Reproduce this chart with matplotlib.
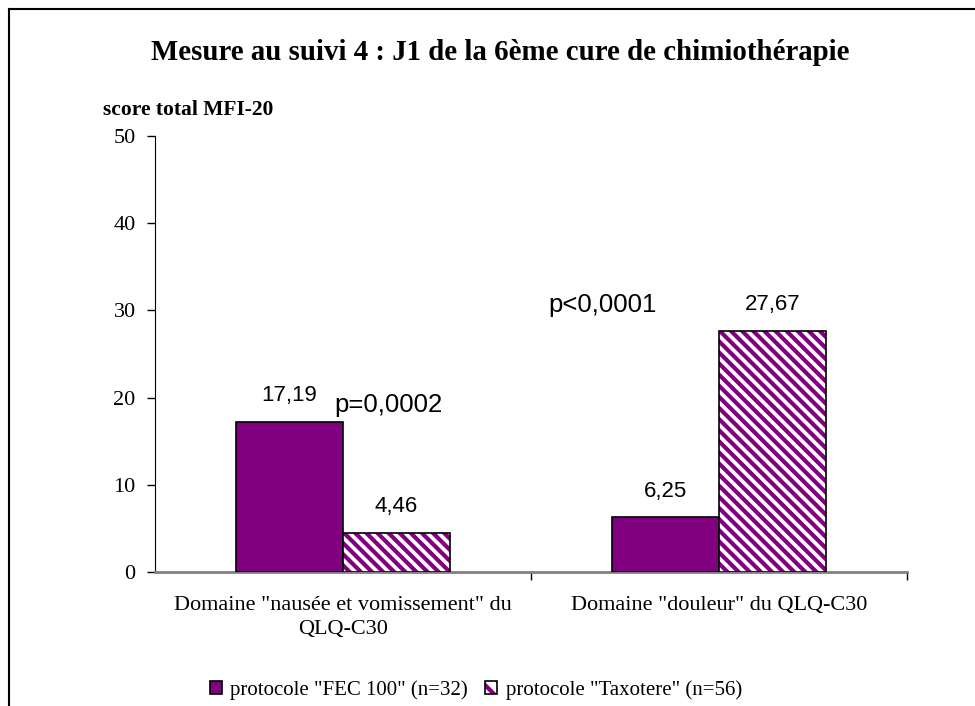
import matplotlib
matplotlib.use("Agg")
import matplotlib.pyplot as plt
from matplotlib.patches import Patch
from matplotlib.lines import Line2D
from matplotlib.legend_handler import HandlerTuple
import numpy as np

categories = ['Domaine "nausée et vomissement" du\nQLQ-C30', 'Domaine "douleur" du QLQ-C30']
series_names = ['protocole "FEC 100" (n=32)', 'protocole "Taxotere" (n=56)']
fec_values = [17.19, 6.25]
taxo_values = [4.46, 27.67]
value_labels_fec = ['17,19', '6,25']
value_labels_taxo = ['4,46', '27,67']
p_labels = ['p=0,0002', 'p<0,0001']
p_positions = [(0.12, 19.2), (0.69, 30.6)]
yticks = [0, 10, 20, 30, 40, 50]

purple = '#800080'
serif = ['Liberation Serif', 'DejaVu Serif']
sans = ['Liberation Sans', 'DejaVu Sans']

plt.rcParams['hatch.linewidth'] = 3.0

fig = plt.figure(figsize=(9.75, 7.06), dpi=100)
ax = fig.add_axes([0.159, 0.1898, 0.771, 0.6176])

x = np.arange(len(categories))
w = 0.285
b1 = ax.bar(x - w/2, fec_values, w, color=purple, edgecolor='black', linewidth=1.2, zorder=3)
# hatched bars: purple hatch on white, then black outline on top
ax.bar(x + w/2, taxo_values, w, facecolor='white', edgecolor=purple, hatch='\\\\\\', linewidth=0, zorder=3)
b2 = ax.bar(x + w/2, taxo_values, w, facecolor='none', edgecolor='black', linewidth=1.2, zorder=4)

for rect, lab in zip(b1, value_labels_fec):
    ax.annotate(lab, (rect.get_x() + rect.get_width()/2, rect.get_height()),
                xytext=(0, 11.5), textcoords='offset points', ha='center', va='bottom',
                fontsize=16, family=sans)
for rect, lab in zip(b2, value_labels_taxo):
    ax.annotate(lab, (rect.get_x() + rect.get_width()/2, rect.get_height()),
                xytext=(0, 11.5), textcoords='offset points', ha='center', va='bottom',
                fontsize=16, family=sans)
for (px, py), lab in zip(p_positions, p_labels):
    ax.text(px, py, lab, ha='center', va='center', fontsize=18.5, family=sans)

ax.set_xlim(-0.5, 1.5)
ax.set_ylim(0, 50)
ax.set_yticks(yticks)
ax.set_yticklabels([str(t) for t in yticks], family=serif, fontsize=16)
ax.set_xticks([0.5, 1.5], minor=False)
ax.set_xticklabels([])
ax.set_xticks([0, 1], minor=True)
ax.set_xticklabels(categories, minor=True, family=serif, fontsize=16, linespacing=1.4)
ax.tick_params(axis='x', which='minor', length=0, pad=17)
ax.tick_params(axis='x', which='major', length=6, direction='out', width=1, color='black')
ax.tick_params(axis='y', length=6, direction='out', width=1, color='black', pad=8)
for s in ['top', 'right']:
    ax.spines[s].set_visible(False)
ax.spines['left'].set_color('black')
ax.spines['bottom'].set_color('#808080')
ax.spines['bottom'].set_linewidth(2)

fig.text(0.513, 0.925, 'Mesure au suivi 4 : J1 de la 6ème cure de chimiothérapie',
         ha='center', va='center', fontsize=20.8, fontweight='bold', family=serif)
fig.text(0.106, 0.844, 'score total MFI-20', ha='left', va='center',
         fontsize=15.5, fontweight='bold', family=serif)

h1 = Patch(facecolor=purple, edgecolor='black', linewidth=1.2)
h2 = (Patch(facecolor='white', edgecolor=purple, hatch='\\\\', linewidth=0),
      Patch(facecolor='none', edgecolor='black', linewidth=1.2))
fig.legend([h1, h2], series_names, loc='center', bbox_to_anchor=(0.488, 0.023),
           ncol=2, frameon=False, prop={'family': serif, 'size': 15},
           handler_map={tuple: HandlerTuple(ndivide=1, pad=0)},
           handlelength=0.6, handleheight=0.6, handletextpad=0.4, columnspacing=0.8)

# figure border (top and left)
fig.add_artist(Line2D([0.0092, 1.0], [1 - 9/706, 1 - 9/706], transform=fig.transFigure, color='black', lw=1.5))
fig.add_artist(Line2D([0.0092, 0.0092], [0.0, 1 - 9/706], transform=fig.transFigure, color='black', lw=1.5))

fig.savefig('out.png', dpi=100)
